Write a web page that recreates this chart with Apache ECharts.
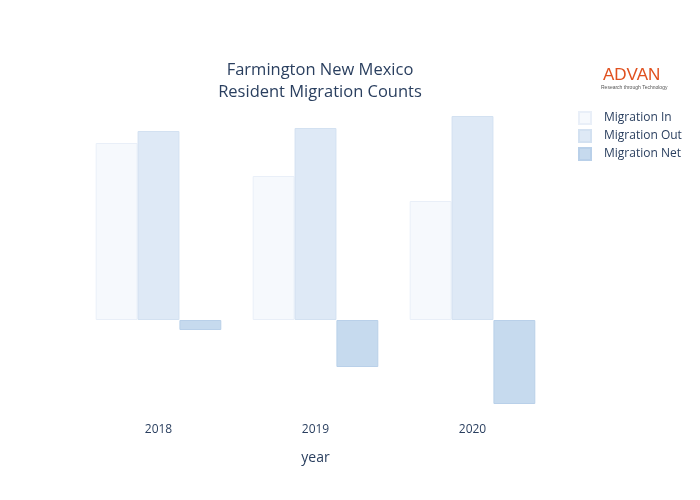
<!DOCTYPE html><html><head><meta charset="utf-8"><script src="https://cdn.jsdelivr.net/npm/echarts@6/dist/echarts.min.js"></script></head><body style="margin:0"><div id="c" style="width:700px;height:500px"></div><script>
const years=['2018','2019','2020'];
const migIn=[177,144,119];
const migOut=[189,192,204];
const migNet=[-10,-47,-84];
const ch=echarts.init(document.getElementById('c'));
const f='"Open Sans", sans-serif';
function s(name,data,color,border){return {name,type:'bar',data,barGap:'0%',barCategoryGap:'20%',itemStyle:{color,borderColor:border,borderWidth:1}};}
ch.setOption({
 animation:false,
 title:{text:'Farmington New Mexico\nResident Migration Counts',left:315,top:54,textAlign:'center',textStyle:{fontFamily:f,fontSize:16.5,fontWeight:'normal',color:'#2a3f5f',lineHeight:22}},
 legend:{orient:'vertical',left:573,top:106,itemWidth:12,itemHeight:12,itemGap:4,icon:'rect',textStyle:{fontFamily:f,fontSize:12,color:'#2a3f5f',padding:[0,0,0,8]}},
 graphic:[{type:'text',left:603,top:67,style:{text:'ADVAN',fill:'#e0501e',font:'17px "Liberation Sans", sans-serif'}},
          {type:'text',left:601,top:85,style:{text:'Research through Technology',fill:'#555',font:'5px sans-serif'}}],
 grid:{left:80,right:149,top:110,bottom:85,outerBoundsMode:'none',containLabel:false},
 xAxis:{type:'category',data:years,name:'year',nameLocation:'middle',nameGap:36,nameTextStyle:{fontFamily:f,fontSize:14,color:'#2a3f5f'},axisLine:{show:false},axisTick:{show:false},axisLabel:{fontFamily:f,fontSize:12,color:'#2a3f5f',margin:9}},
 yAxis:{type:'value',min:-95,max:210,show:false,splitLine:{show:false}},
 series:[s('Migration In',migIn,'#f6f9fd','#e9eff8'),s('Migration Out',migOut,'#dee9f6','#d3e1f1'),s('Migration Net',migNet,'#c6daee','#b9d0e9')]
});
</script></body></html>
